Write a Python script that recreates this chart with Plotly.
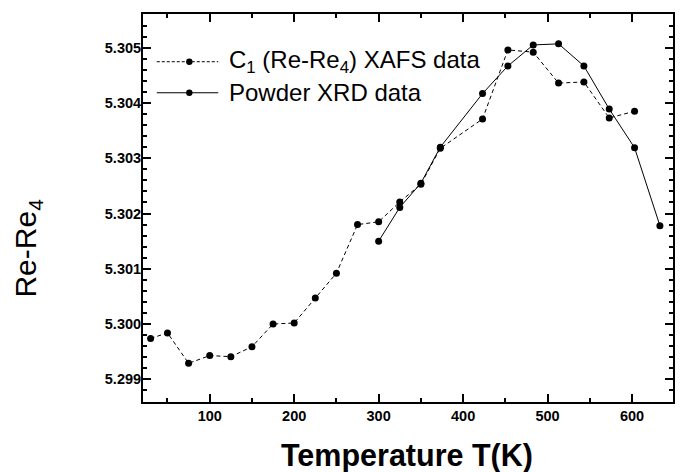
import plotly.graph_objects as go

# C1 (Re-Re4) XAFS data
xafs_T = [30, 50, 75, 100, 125, 150, 175, 200, 225, 250, 275, 300, 325, 350,
          373, 423, 453, 483, 513, 543, 573, 603]
xafs_r = [5.29974, 5.29984, 5.29929, 5.29943, 5.29941, 5.29959, 5.30000, 5.30002,
          5.30047, 5.30092, 5.30180, 5.30185, 5.30221, 5.30253,
          5.30318, 5.30371, 5.30496, 5.30492, 5.30436, 5.30438, 5.30373, 5.30385]

# Powder XRD data
xrd_T = [300, 325, 350, 373, 423, 453, 483, 513, 543, 573, 603, 633]
xrd_r = [5.30150, 5.30211, 5.30255, 5.30320, 5.30417, 5.30467, 5.30505, 5.30507,
         5.30467, 5.30389, 5.30319, 5.30178]

legend_names = ["C<sub>1</sub> (Re-Re<sub>4</sub>) XAFS data", "Powder XRD data"]

FONT = "Liberation Sans, Arial, sans-serif"

fig = go.Figure()
fig.add_trace(go.Scatter(x=xafs_T, y=xafs_r, mode="lines+markers", name=legend_names[0],
                         line=dict(color="black", width=1, dash="4px,3px"),
                         marker=dict(color="black", size=7)))
fig.add_trace(go.Scatter(x=xrd_T, y=xrd_r, mode="lines+markers", name=legend_names[1],
                         line=dict(color="black", width=1),
                         marker=dict(color="black", size=7)))

axis_common = dict(showline=True, linewidth=2, linecolor="black", mirror="allticks",
                   ticks="inside", ticklen=8, tickwidth=1.5, tickcolor="black",
                   showgrid=False, zeroline=False, automargin=False,
                   tickfont=dict(family=FONT, size=14.5, color="black", weight="bold"))

fig.update_xaxes(range=[21, 648.5], tick0=0, dtick=100,
                 minor=dict(dtick=50, ticks="inside", ticklen=4, tickwidth=1.5,
                            tickcolor="black", showgrid=False),
                 **axis_common)
fig.update_yaxes(range=[5.29859, 5.30561], tick0=5.299, dtick=0.001, tickformat=".3f",
                 ticklabelstandoff=-3,
                 minor=dict(dtick=0.0002, ticks="inside", ticklen=4, tickwidth=1.5,
                            tickcolor="black", showgrid=False),
                 **axis_common)

# hand-made legend (long sample lines like the original)
shapes = []
annotations = []
rows_y = [0.877, 0.797]
dashes = ["3px,2px", "solid"]
for name, ry, dsh in zip(legend_names, rows_y, dashes):
    shapes.append(dict(type="line", xref="paper", yref="paper", x0=0.026, x1=0.142,
                       y0=ry, y1=ry, line=dict(color="black", width=1, dash=dsh)))
    shapes.append(dict(type="circle", xref="paper", yref="paper",
                       xsizemode="pixel", ysizemode="pixel",
                       xanchor=0.0874, yanchor=ry, x0=-3.2, x1=3.2, y0=-3.2, y1=3.2,
                       fillcolor="black", line=dict(color="black", width=0)))
    annotations.append(dict(text=name, xref="paper", yref="paper", x=0.158, y=ry,
                            xanchor="left", yanchor="middle", showarrow=False,
                            font=dict(family=FONT, size=24, color="black")))

annotations.append(dict(text="Temperature T(K)", xref="paper", yref="paper",
                        x=0.498, y=-0.1366, xanchor="center", yanchor="middle",
                        showarrow=False,
                        font=dict(family=FONT, size=30.5, color="black", weight="bold")))
annotations.append(dict(text="Re-Re<sub>4</sub>", xref="paper", yref="paper",
                        x=-0.217, y=0.398, xanchor="center", yanchor="middle",
                        textangle=-90, showarrow=False,
                        font=dict(family=FONT, size=30, color="black")))

# the page body adds an 8px offset, so the figure is 8px smaller than the window
fig.update_layout(width=675, height=464, margin=dict(l=135, r=10, t=6, b=70),
                  paper_bgcolor="white", plot_bgcolor="white", showlegend=False,
                  shapes=shapes, annotations=annotations,
                  font=dict(family=FONT, color="black"))

fig.write_html("out.html")
